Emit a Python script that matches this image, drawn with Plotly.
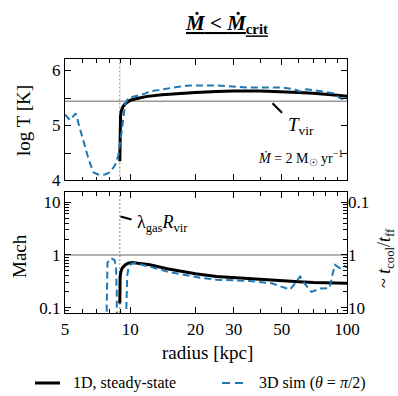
import plotly.graph_objects as go

# ---------------- data ----------------
# top panel: log T vs radius
r_1d_T = [8.95, 8.96, 8.98, 9.02, 9.1, 9.25, 9.45, 9.7, 10, 11, 12, 14, 17, 20, 25, 30, 40, 50, 60, 70, 80, 90, 100]
logT_1d = [4.35, 4.8, 5.05, 5.18, 5.27, 5.34, 5.39, 5.43, 5.46, 5.50, 5.53, 5.56, 5.585, 5.60, 5.62, 5.63, 5.63, 5.62, 5.60, 5.585, 5.57, 5.55, 5.53]

r_3d_T = [5.0, 5.27, 5.6, 5.87, 6.18, 6.41, 6.75, 7.1, 7.65, 8.07, 8.51, 8.81, 9.13, 9.46, 9.79, 10.5, 11.7, 12.3, 14.5, 17, 18.9, 25, 35.7, 50.8, 57, 60.7, 65.2, 72, 77.7, 86.4, 92.8, 100]
logT_3d = [5.2, 5.1, 5.22, 4.92, 4.64, 4.40, 4.15, 4.11, 4.11, 4.15, 4.28, 4.46, 4.89, 5.38, 5.50, 5.53, 5.58, 5.62, 5.67, 5.71, 5.73, 5.73, 5.69, 5.69, 5.66, 5.62, 5.66, 5.64, 5.62, 5.59, 5.50, 5.46]

# bottom panel: Mach vs radius
r_1d_M = [8.95, 8.96, 8.98, 9.05, 9.2, 9.5, 9.8, 10.2, 11, 12.3, 15, 20, 25, 30, 40, 50, 60, 70, 80, 100]
mach_1d = [0.12, 0.25, 0.38, 0.48, 0.57, 0.65, 0.70, 0.72, 0.70, 0.65, 0.54, 0.44, 0.39, 0.37, 0.34, 0.32, 0.31, 0.30, 0.295, 0.29]

r_3d_M = [7.74, 7.78, 7.85, 8.0, 8.2, 8.45, 8.6, 8.66, 8.7, 9.5, 9.58, 9.68, 9.85, 10.1, 10.5, 12.3, 14.9, 21, 25, 30, 35.7, 45, 50, 54.6, 58, 60.7, 64, 68.5, 75, 83, 86, 88, 93, 97, 100]
mach_3d = [0.02, 0.3, 0.7, 0.82, 0.85, 0.8, 0.6, 0.2, 0.02, 0.02, 0.1, 0.4, 0.6, 0.68, 0.7, 0.6, 0.48, 0.37, 0.34, 0.33, 0.32, 0.29, 0.25, 0.22, 0.3, 0.39, 0.28, 0.2, 0.23, 0.235, 0.45, 0.65, 0.56, 0.62, 0.58]

T_VIR_LOG = 5.44
R_LAMBDA = 8.95
MACH_ONE = 1

x_tickvals = [5, 10, 20, 30, 50, 100]
x_ticktext = ["5", "10", "20", "30", "50", "100"]
x_minorvals = [6, 7, 8, 9, 40, 60, 70, 80, 90]
T_tickvals = [4, 5, 6]
M_tickvals = [0.1, 1, 10]
M_ticktext = ["0.1", "1", "10"]
M_minorvals = [0.09, 0.2, 0.3, 0.4, 0.5, 0.6, 0.7, 0.8, 0.9, 2, 3, 4, 5, 6, 7, 8, 9]
tc_ticktext = ["0.1", "1", "10"]
legend_names = ["1D, steady-state", "3D sim (<i>θ</i> = <i>π</i>/2)"]

# ---------------- figure ----------------
FONT = "Liberation Serif"
BLACK = "#000000"
BLUE = "#1f77b4"
DASH = "7px,4px"

fig = go.Figure()
fig.add_trace(go.Scatter(x=r_1d_T, y=logT_1d, mode="lines", name=legend_names[0],
                         line=dict(color=BLACK, width=3), xaxis="x", yaxis="y"))
fig.add_trace(go.Scatter(x=r_3d_T, y=logT_3d, mode="lines", name=legend_names[1],
                         line=dict(color=BLUE, width=2, dash=DASH), xaxis="x", yaxis="y"))
fig.add_trace(go.Scatter(x=r_1d_M, y=mach_1d, mode="lines", name=legend_names[0],
                         line=dict(color=BLACK, width=3), xaxis="x2", yaxis="y2"))
fig.add_trace(go.Scatter(x=r_3d_M, y=mach_3d, mode="lines", name=legend_names[1],
                         line=dict(color=BLUE, width=2, dash=DASH), xaxis="x2", yaxis="y2"))
# dummy trace so the right-hand axis is drawn
fig.add_trace(go.Scatter(x=[10], y=[1], mode="markers", marker=dict(opacity=0),
                         hoverinfo="skip", xaxis="x2", yaxis="y3"))

common_axis = dict(showline=True, linecolor="black", linewidth=1.3, mirror="ticks",
                   ticks="inside", ticklen=6, tickwidth=1.2, tickcolor="black",
                   showgrid=False, zeroline=False, automargin=False,
                   tickfont=dict(family=FONT, size=17, color="black"))

xminor = dict(tickvals=x_minorvals, ticks="inside", ticklen=3.5, tickwidth=1, tickcolor="black", showgrid=False)

fig.update_layout(
    width=398, height=396,
    margin=dict(l=65, r=51, t=59, b=83, autoexpand=False),
    paper_bgcolor="white", plot_bgcolor="white",
    font=dict(family=FONT, color="black"),
    showlegend=False,
    xaxis=dict(common_axis, type="log", domain=[0, 1], anchor="y", range=[0.69897, 2],
               tickvals=x_tickvals, ticktext=x_ticktext, showticklabels=False,
               minor=xminor, matches="x2"),
    yaxis=dict(common_axis, domain=[0.5217, 1], anchor="x", range=[4, 6.21],
               tickvals=T_tickvals, minor=dict(dtick=0.5, tick0=4, ticks="inside", ticklen=6,
                                             tickwidth=1.2, tickcolor="black", showgrid=False)),
    xaxis2=dict(common_axis, type="log", domain=[0, 1], anchor="y2", range=[0.69897, 2],
                tickvals=x_tickvals, ticktext=x_ticktext, minor=xminor),
    yaxis2=dict(common_axis, type="log", domain=[0, 0.476], anchor="x2", range=[-1.1, 1.19],
                tickvals=M_tickvals, ticktext=M_ticktext,
                minor=dict(tickvals=M_minorvals, ticks="inside", ticklen=3.5, tickwidth=1,
                           tickcolor="black", showgrid=False)),
    yaxis3=dict(type="log", overlaying="y2", side="right", anchor="x2", range=[1.1, -1.19],
                tickvals=M_tickvals, ticktext=tc_ticktext, ticks="", showline=False,
                showgrid=False, zeroline=False, automargin=False,
                tickfont=dict(family=FONT, size=17, color="black")),
)

def px_x(px):
    return (px - 65) / 282

def px_y(py):
    return (313 - py) / 254

# reference lines
fig.add_shape(type="line", xref="x domain", x0=0, x1=1, yref="y", y0=T_VIR_LOG, y1=T_VIR_LOG,
              line=dict(color="#999999", width=1.5), layer="below")
fig.add_shape(type="line", xref="x2 domain", x0=0, x1=1, yref="y2", y0=MACH_ONE, y1=MACH_ONE,
              line=dict(color="#999999", width=1.5), layer="below")
fig.add_shape(type="line", xref="x", x0=R_LAMBDA, x1=R_LAMBDA, yref="y domain", y0=0, y1=1,
              line=dict(color="#888888", width=1, dash="2px,2px"), layer="below")
fig.add_shape(type="line", xref="x2", x0=R_LAMBDA, x1=R_LAMBDA, yref="y2 domain", y0=0, y1=1,
              line=dict(color="#888888", width=1, dash="2px,2px"), layer="below")

# legend keys (drawn by hand so the two entries stay on one row)
LEG_Y = px_y(383)
fig.add_shape(type="line", xref="paper", yref="paper", x0=px_x(35), x1=px_x(60), y0=LEG_Y, y1=LEG_Y,
              line=dict(color=BLACK, width=3))
fig.add_shape(type="line", xref="paper", yref="paper", x0=px_x(222), x1=px_x(244), y0=LEG_Y, y1=LEG_Y,
              line=dict(color=BLUE, width=2, dash="8px,5px"))


def label(text, px, py, size, angle=0, xanchor="center"):
    return dict(text=text, xref="paper", yref="paper", x=px_x(px), y=px_y(py),
                xanchor=xanchor, yanchor="middle", textangle=angle, showarrow=False,
                font=dict(family=FONT, size=size, color="black"))

ann = []
# title
ann.append(label("<b><u><i>Ṁ</i> &lt; <i>Ṁ</i><sub>crit</sub></u></b>", 226, 24, 21))
# axis titles
ann.append(label("log T [K]", 23, 121, 19, -90))
ann.append(label("Mach", 19, 256, 19, -90))
ann.append(label("~ <i>t</i><sub>cool</sub>/<i>t</i><sub>ff</sub>", 385, 258, 18, -90))
ann.append(label("radius [kpc]", 207, 352, 19))
# in-panel labels
ann.append(label("<i>Ṁ</i> = 2 M<sub>☉</sub> yr<sup>−1</sup>", 345, 158, 14, xanchor="right"))
ann.append(label("<i>T</i><sub>vir</sub>", 301, 126, 19))
ann.append(label("λ<sub>gas</sub><i>R</i><sub>vir</sub>", 135, 223, 18, xanchor="left"))
# legend texts
ann.append(label(legend_names[0], 71, 383, 16, xanchor="left"))
ann.append(label(legend_names[1], 257, 383, 16, xanchor="left"))
# arrows (text-less)
ann.append(dict(text=" ", xref="paper", yref="paper", x=px_x(272.5), y=px_y(103.3),
                ax=11, ay=11, showarrow=True, arrowhead=0, arrowwidth=2, arrowcolor="black",
                font=dict(size=1)))
ann.append(dict(text=" ", xref="paper", yref="paper", x=px_x(120.5), y=px_y(216.5),
                ax=12.5, ay=3.5, showarrow=True, arrowhead=0, arrowwidth=2, arrowcolor="black",
                font=dict(size=1)))
fig.update_layout(annotations=ann)

fig.write_html("out.html")
